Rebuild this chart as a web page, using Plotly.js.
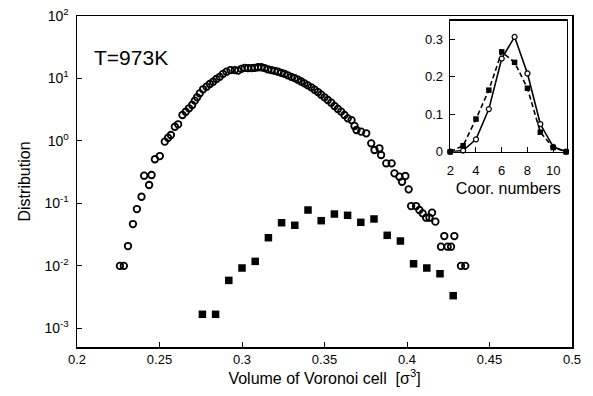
<!DOCTYPE html>
<html>
<head>
<meta charset="utf-8">
<script src="https://cdn.plot.ly/plotly-3.0.1.min.js"></script>
<style>html,body{margin:0;padding:0;background:#fff;}#chart{width:593px;height:396px;}</style>
</head>
<body>
<div id="chart"></div>
<script>
// Main plot: distribution of Voronoi cell volumes (open circles) and second set (filled squares)
const circleVolume = [0.2260,0.2284,0.2309,0.2339,0.2363,0.2391,0.2407,0.2437,0.2452,0.2472,
  0.2502,0.2532,0.2552,0.2569,0.2593,0.2613,0.2639,0.2659,0.2679,0.2698,
  0.2714,0.2728,0.2744,0.2764,0.2785,0.2805,0.2825,0.2845,0.2865,0.2885,
  0.2906,0.2930,0.2956,0.2976,0.2996,0.3016,0.3036,0.3057,0.3077,0.3097,
  0.3117,0.3137,0.3157,0.3178,0.3198,0.3218,0.3238,0.3258,0.3278,0.3299,
  0.3319,0.3339,0.3359,0.3379,0.3399,0.3420,0.3440,0.3460,0.3480,0.3500,
  0.3520,0.3541,0.3561,0.3581,0.3601,0.3621,0.3641,0.3664,0.3682,0.3694,
  0.3722,0.3753,0.3783,0.3803,0.3833,0.3843,0.3874,0.3907,0.3924,0.3954,
  0.3970,0.3990,0.4010,0.4025,0.4055,0.4075,0.4095,0.4116,0.4136,0.4152,
  0.4172,0.4206,0.4226,0.4246,0.4267,0.4287,0.4327,0.4353];
const circleDist = [0.0099,0.0099,0.0206,0.0464,0.0807,0.127,0.276,0.196,0.283,0.506,
  0.570,0.968,1.12,1.24,1.68,1.84,2.59,2.92,3.32,3.75,
  4.40,4.98,5.77,6.69,7.36,8.13,8.85,9.78,10.6,11.8,
  12.8,13.6,13.6,13.3,14.2,14.7,14.6,14.6,14.8,15.1,
  15.1,14.6,14.0,13.6,13.2,12.8,12.3,11.8,11.2,10.6,
  10.1,9.53,8.92,8.34,7.74,7.19,6.59,6.05,5.48,4.98,
  4.51,4.08,3.61,3.24,2.93,2.59,2.29,2.15,1.73,1.49,
  1.40,1.32,0.912,0.713,0.759,0.592,0.436,0.436,0.301,0.266,
  0.221,0.273,0.167,0.0901,0.0901,0.0778,0.0689,0.0586,0.0586,0.0705,
  0.0506,0.0201,0.0298,0.0201,0.0201,0.0298,0.0099,0.0099];

const squareVolume = [0.276,0.284,0.292,0.300,0.308,0.316,0.324,0.332,0.340,0.348,
  0.356,0.364,0.372,0.380,0.388,0.396,0.404,0.412,0.420,0.428];
const squareDist = [0.00166,0.00166,0.0058,0.00916,0.0117,0.028,0.0487,0.0443,0.0778,0.0525,
  0.0671,0.064,0.0494,0.0559,0.0306,0.0248,0.0107,0.00916,0.00741,0.0033];

// Inset: coordination numbers
const coordNumbers = [2,3,4,5,6,7,8,9,10,11];
const coordCircle = [0,0.003,0.033,0.1135,0.248,0.306,0.2085,0.0737,0.013,0];
const coordSquare = [0,0.016,0.087,0.164,0.266,0.238,0.169,0.052,0.011,0];

const yTickVals = [0.001,0.01,0.1,1,10,100];
const yTickText = ['10<sup>-3</sup>','10<sup>-2</sup>','10<sup>-1</sup>','10<sup>0</sup>','10<sup>1</sup>','10<sup>2</sup>'];

const font = {family:'Liberation Sans, Arial, sans-serif', color:'#000'};

const traces = [
  {x:circleVolume, y:circleDist, type:'scatter', mode:'markers', xaxis:'x', yaxis:'y',
   marker:{symbol:'circle-open', size:6.5, color:'#000', line:{width:1.8, color:'#000'}}},
  {x:squareVolume, y:squareDist, type:'scatter', mode:'markers', xaxis:'x', yaxis:'y',
   marker:{symbol:'square', size:7.5, color:'#000'}},
  {x:coordNumbers, y:coordCircle, type:'scatter', mode:'lines+markers', xaxis:'x2', yaxis:'y2',
   line:{color:'#000', width:1.6}, marker:{symbol:'circle', size:5, color:'#fff', line:{width:1.2, color:'#000'}}, cliponaxis:false},
  {x:coordNumbers, y:coordSquare, type:'scatter', mode:'lines+markers', xaxis:'x2', yaxis:'y2',
   line:{color:'#000', width:1.6, dash:'5px,3px'}, marker:{symbol:'square', size:5.5, color:'#000'}, cliponaxis:false}
];

const layout = {
  width:593, height:396,
  margin:{l:77, r:21, t:16, b:49},
  paper_bgcolor:'#fff', plot_bgcolor:'#fff',
  showlegend:false,
  font:Object.assign({size:13}, font),
  xaxis:{range:[0.2,0.5], tickvals:[0.2,0.25,0.3,0.35,0.4,0.45,0.5], ticktext:['0.2','0.25','0.3','0.35','0.4','0.45','0.5'],
    ticks:'inside', ticklen:5, tickwidth:1, tickcolor:'#000',
    showline:true, linecolor:'#000', linewidth:1.5, mirror:true, showgrid:false, zeroline:false,
    tickfont:Object.assign({size:13}, font),
    title:{text:'Volume of Voronoi cell  [σ<sup>3</sup>]', font:Object.assign({size:16}, font), standoff:6}},
  yaxis:{type:'log', range:[-3.304,2], tickvals:yTickVals, ticktext:yTickText,
    ticks:'inside', ticklen:5, tickwidth:1, tickcolor:'#000',
    showline:true, linecolor:'#000', linewidth:1.5, mirror:true, showgrid:false, zeroline:false,
    tickfont:Object.assign({size:14}, font), ticklabelstandoff:4,
    title:{text:'Distribution', font:Object.assign({size:16}, font), standoff:10}},
  xaxis2:{domain:[0.7535,0.9893], anchor:'y2', range:[1.98,11.05], tickvals:[2,4,6,8,10],
    ticks:'inside', ticklen:5, tickwidth:1, tickcolor:'#000',
    showline:true, linecolor:'#000', linewidth:1.3, mirror:true, showgrid:false, zeroline:false,
    tickfont:Object.assign({size:13}, font), ticklabelstandoff:6,
    title:{text:'Coor. numbers', font:Object.assign({size:16}, font), standoff:6}},
  yaxis2:{domain:[0.590,0.9858], anchor:'x2', range:[0,0.349], tickvals:[0,0.1,0.2,0.3], ticktext:['0','0.1','0.2','0.3'],
    ticks:'inside', ticklen:5, tickwidth:1, tickcolor:'#000',
    showline:true, linecolor:'#000', linewidth:1.3, mirror:true, showgrid:false, zeroline:false,
    tickfont:Object.assign({size:13}, font), ticklabelstandoff:3},
  annotations:[{text:'T=973K', xref:'paper', yref:'paper', x:0.030, y:0.876, xanchor:'left', yanchor:'middle',
    showarrow:false, font:Object.assign({size:21}, font)}]
};

Plotly.newPlot('chart', traces, layout, {staticPlot:true, displayModeBar:false});
</script>
</body>
</html>
